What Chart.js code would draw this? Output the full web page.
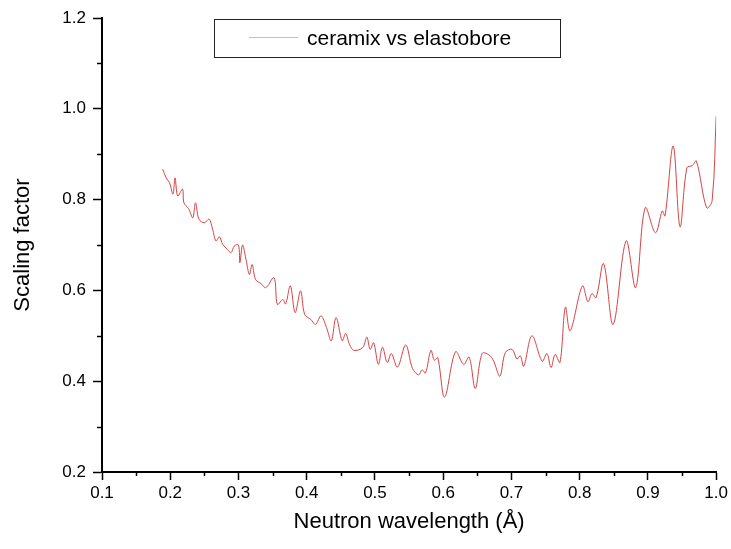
<!DOCTYPE html>
<html>
<head>
<meta charset="utf-8">
<script src="https://cdn.jsdelivr.net/npm/chart.js@4"></script>
<style>
  body { margin: 0; background: #fff; }
</style>
</head>
<body>
<canvas id="myChart" width="731" height="549"></canvas>
<script>
// wavelength (Å)
const wavelength = [0.189, 0.194, 0.199, 0.204, 0.207, 0.211, 0.218, 0.220, 0.227, 0.233, 0.237, 0.242, 0.250, 0.257, 0.262, 0.267, 0.272, 0.277, 0.284, 0.289, 0.294, 0.300, 0.302, 0.306, 0.311, 0.316, 0.320, 0.325, 0.333, 0.340, 0.352, 0.357, 0.365, 0.369, 0.376, 0.383, 0.391, 0.397, 0.406, 0.413, 0.421, 0.429, 0.436, 0.443, 0.452, 0.457, 0.463, 0.469, 0.482, 0.488, 0.493, 0.498, 0.505, 0.511, 0.518, 0.524, 0.533, 0.545, 0.555, 0.564, 0.569, 0.574, 0.582, 0.587, 0.592, 0.602, 0.618, 0.630, 0.638, 0.647, 0.657, 0.667, 0.674, 0.683, 0.691, 0.701, 0.708, 0.713, 0.718, 0.730, 0.745, 0.752, 0.758, 0.764, 0.771, 0.779, 0.786, 0.804, 0.812, 0.818, 0.824, 0.835, 0.849, 0.868, 0.882, 0.896, 0.911, 0.921, 0.925, 0.937, 0.947, 0.957, 0.965, 0.971, 0.986, 0.994, 1.000];
const scaling = [0.867, 0.848, 0.837, 0.812, 0.848, 0.808, 0.823, 0.793, 0.780, 0.760, 0.793, 0.757, 0.749, 0.757, 0.735, 0.709, 0.718, 0.701, 0.690, 0.683, 0.698, 0.700, 0.661, 0.700, 0.668, 0.635, 0.657, 0.624, 0.615, 0.606, 0.628, 0.569, 0.580, 0.570, 0.610, 0.551, 0.599, 0.547, 0.536, 0.525, 0.544, 0.518, 0.489, 0.540, 0.489, 0.505, 0.480, 0.468, 0.474, 0.497, 0.470, 0.485, 0.437, 0.475, 0.441, 0.461, 0.431, 0.480, 0.428, 0.414, 0.425, 0.418, 0.468, 0.446, 0.452, 0.365, 0.465, 0.437, 0.453, 0.384, 0.461, 0.458, 0.444, 0.411, 0.463, 0.470, 0.449, 0.456, 0.433, 0.500, 0.444, 0.461, 0.430, 0.459, 0.441, 0.563, 0.511, 0.610, 0.575, 0.593, 0.584, 0.659, 0.525, 0.709, 0.606, 0.782, 0.727, 0.775, 0.764, 0.918, 0.740, 0.870, 0.875, 0.885, 0.782, 0.797, 0.984];
const seriesLabel = 'ceramix vs elastobore';
const xMinorTicks = [0.15, 0.25, 0.35, 0.45, 0.55, 0.65, 0.75, 0.85, 0.95];
const yMinorTicks = [0.3, 0.5, 0.7, 0.9, 1.1];

const points = [];
for (let i = 0; i < wavelength.length; i++) {
  points.push({ x: wavelength[i], y: scaling[i] });
}

const fontFamily = '"Liberation Sans", Arial, sans-serif';

// legend box inside the plot + short minor ticks, like Origin draws them
const extras = {
  id: 'extras',
  afterDraw(chart) {
    const ctx = chart.ctx;
    const xs = chart.scales.x, ys = chart.scales.y;
    const area = chart.chartArea;
    ctx.save();
    ctx.strokeStyle = '#000';
    ctx.lineWidth = 1.5;
    xMinorTicks.forEach(v => {
      const px = Math.round(xs.getPixelForValue(v)) + 0.5;
      ctx.beginPath();
      ctx.moveTo(px, area.bottom);
      ctx.lineTo(px, area.bottom + 4);
      ctx.stroke();
    });
    yMinorTicks.forEach(v => {
      const py = Math.round(ys.getPixelForValue(v)) + 0.5;
      ctx.beginPath();
      ctx.moveTo(area.left, py);
      ctx.lineTo(area.left - 5, py);
      ctx.stroke();
    });

    ctx.lineWidth = 1;
    ctx.strokeStyle = '#222';
    ctx.strokeRect(214.5, 19.5, 346, 38);
    ctx.strokeStyle = '#f3aaaa';
    ctx.beginPath();
    ctx.moveTo(249, 37.5);
    ctx.lineTo(298, 37.5);
    ctx.stroke();
    ctx.fillStyle = '#000';
    ctx.font = '21px ' + fontFamily;
    ctx.textBaseline = 'middle';
    ctx.fillText(chart.data.datasets[0].label, 307, 39);
    ctx.restore();
  }
};

const tickFont = { family: fontFamily, size: 17 };

const config = {
  type: 'line',
  data: {
    datasets: [{
      label: seriesLabel,
      data: points,
      borderColor: 'rgb(212, 68, 68)',
      borderWidth: 1,
      pointRadius: 0,
      tension: 0.35,
      fill: false
    }]
  },
  options: {
    responsive: false,
    animation: false,
    layout: { padding: { top: 18, right: 13, left: 0, bottom: 0 } },
    plugins: {
      legend: { display: false },
      tooltip: { enabled: false }
    },
    scales: {
      x: {
        type: 'linear',
        min: 0.1,
        max: 1.0,
        ticks: {
          stepSize: 0.1,
          color: '#000',
          font: tickFont,
          maxRotation: 0,
          autoSkip: false,
          padding: 3,
          callback: (v) => v.toFixed(1)
        },
        grid: { drawOnChartArea: false, tickLength: 8, tickColor: '#000', tickWidth: 1.5 },
        border: { color: '#000', width: 2 },
        title: {
          display: true,
          text: 'Neutron wavelength (Å)',
          color: '#000',
          font: { family: fontFamily, size: 22 },
          padding: { top: 0, bottom: 14 }
        },
        afterFit: (s) => { s.height = 77; }
      },
      y: {
        type: 'linear',
        min: 0.2,
        max: 1.2,
        ticks: {
          stepSize: 0.2,
          color: '#000',
          font: tickFont,
          autoSkip: false,
          padding: 7,
          callback: (v) => v.toFixed(1)
        },
        grid: { drawOnChartArea: false, tickLength: 9, tickColor: '#000', tickWidth: 1.5 },
        border: { color: '#000', width: 2 },
        title: {
          display: true,
          text: 'Scaling factor',
          color: '#000',
          font: { family: fontFamily, size: 22 },
          padding: { top: 10, bottom: 0 }
        },
        afterFit: (s) => { s.width = 102; }
      }
    }
  },
  plugins: [extras]
};

const myChart = new Chart(document.getElementById('myChart'), config);
</script>
</body>
</html>
